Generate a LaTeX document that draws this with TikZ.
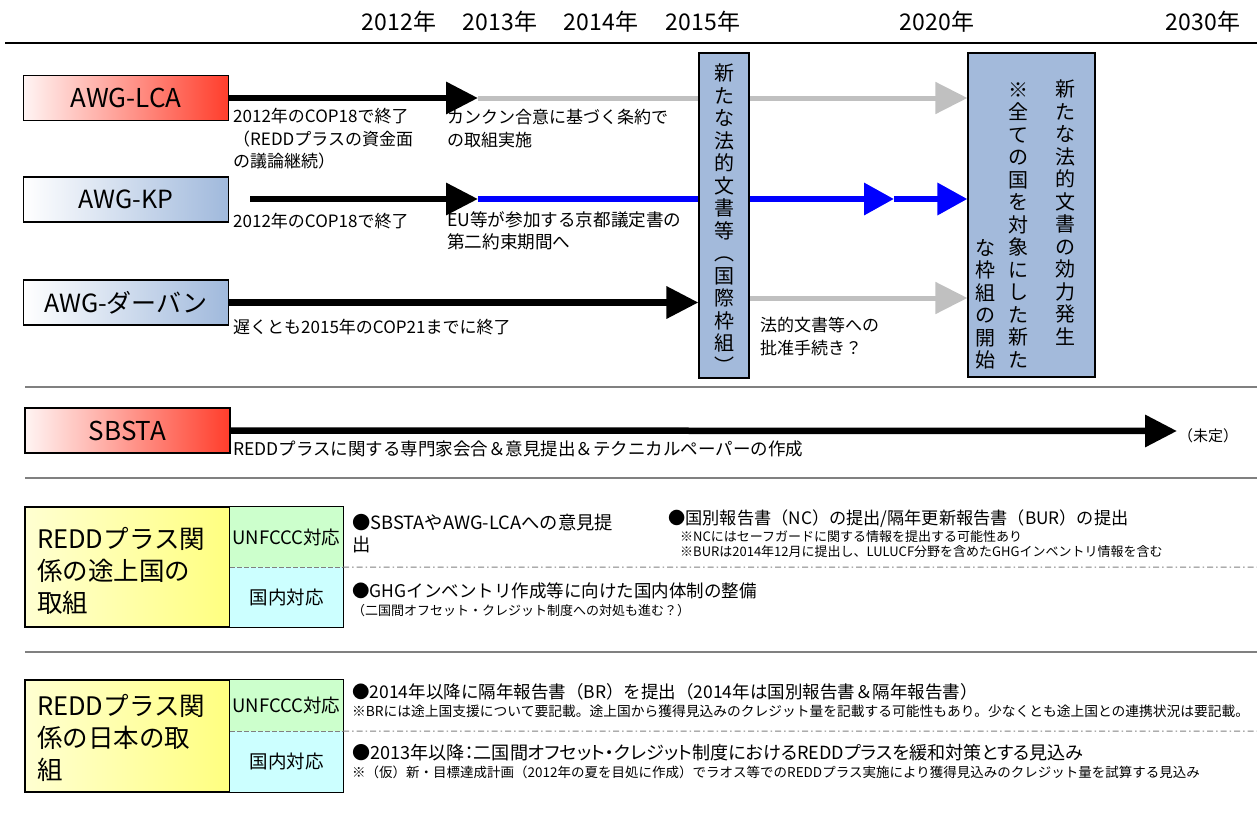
\documentclass[tikz,border=0pt]{standalone}
\usepackage{fontspec}
\setmainfont{Noto Sans CJK JP}
\newfontfamily\pfont[RawFeature=+palt]{Noto Sans CJK JP}
\usetikzlibrary{arrows.meta}
\pgfdeclarelayer{bg}
\pgfsetlayers{bg,main}
\definecolor{myred}{RGB}{255,40,20}
\definecolor{lblue}{RGB}{160,185,220}
\definecolor{vfill}{RGB}{163,186,219}
\definecolor{arrgray}{RGB}{192,192,192}
\definecolor{sepgray}{RGB}{128,128,128}
\definecolor{lgreen}{RGB}{204,255,204}
\definecolor{lcyan}{RGB}{204,255,255}
\definecolor{myblue}{RGB}{0,0,255}
\begin{document}
\begin{tikzpicture}[x=1pt,y=-1pt,
  every node/.style={inner sep=0pt},
  redbox/.style={draw=black, line width=1.2pt, left color=myred!5, right color=myred!90, minimum width=205pt, minimum height=45pt, font=\fontsize{26}{28}\selectfont},
  bluebox/.style={draw=black, line width=1.2pt, left color=white, right color=lblue, minimum width=205pt, minimum height=45pt, font=\fontsize{25}{28}\selectfont},
  vbox/.style={draw=black, line width=1.2pt, fill=vfill},
  vtxt/.style={anchor=north, align=center, font=\fontsize{20}{22.5}\selectfont},
  year/.style={font=\fontsize{23}{26}\selectfont},
  txt/.style={anchor=north west, align=left, font=\fontsize{17}{22.5}\selectfont},
  bul/.style={anchor=north west, align=left, font=\fontsize{17.5}{22}\selectfont},
  small/.style={anchor=north west, align=left, font=\fontsize{13}{15.5}\selectfont},
  blackarr/.style={line width=6.5pt, -{Triangle[length=32pt,width=31pt]}},
  grayarr/.style={line width=5pt, draw=arrgray, -{Triangle[length=32pt,width=31pt]}},
  bluearr/.style={line width=6.5pt, draw=myblue, -{Triangle[length=30pt,width=31pt]}},
  sepline/.style={draw=sepgray, line width=1.6pt},
  dashdot/.style={draw=sepgray, line width=1pt, dash pattern=on 6pt off 3pt on 1.5pt off 3pt},
  splitdash/.style={draw=sepgray, line width=1pt, dash pattern=on 5pt off 2pt},
  bigbox/.style={draw=black, line width=1.2pt, left color=yellow!18, right color=yellow!50, minimum width=205pt},
  bigtxt/.style={anchor=north west, align=left, font=\fontsize{25.5}{32}\selectfont},
  subtxt/.style={font=\fontsize{18.5}{20}\selectfont}
]
\useasboundingbox (0,0) rectangle (1257,814);

% years
\node[year] (y12) at (399,22) {2012年};
\node[year] (y13) at (500,22) {2013年};
\node[year] (y14) at (601,22) {2014年};
\node[year] (y15) at (703,22) {2015年};
\node[year] (y20) at (937,22) {2020年};
\node[year] (y30) at (1203,22) {2030年};
\draw[line width=1.5pt] (5,43) -- (1257,43);

% boxes
\node[redbox] (lca) at (126,98) {AWG-LCA};
\node[bluebox] (kp) at (126,199.5) {AWG-KP};
\node[bluebox] (dbn) at (126,302.5) {AWG-ダーバン};
\node[vbox, minimum width=50pt, minimum height=325pt] (box1) at (724,215.5) {};
\node[vbox, minimum width=127pt, minimum height=324pt] (box2) at (1031.5,215) {};

\node[vtxt] (v1) at (724,64) {新\\た\\な\\法\\的\\文\\書\\等\\︵\\国\\際\\枠\\組\\︶};
\node[vtxt] (v2a) at (1065,80) {新\\た\\な\\法\\的\\文\\書\\の\\効\\力\\発\\生};
\node[vtxt] (v2b) at (1018,82) {※\\全\\て\\の\\国\\を\\対\\象\\に\\し\\た\\新\\た};
\node[vtxt] (v2c) at (985,239) {な\\枠\\組\\の\\開\\始};

\coordinate (lcaT) at (478,98);
\coordinate (kpS) at (250,199);
\coordinate (kpT) at (478,199);
\coordinate (kpM) at (894,199);
\coordinate (dgS) at (749,298);

\begin{pgfonlayer}{bg}
\draw[grayarr] (lcaT) -- (box2.west |- lcaT);
\draw[bluearr] (kpT) -- (kpM);
\draw[bluearr] (kpM) -- (box2.west |- kpM);
\draw[grayarr] (dgS) -- (box2.west |- dgS);
\end{pgfonlayer}
\draw[blackarr] (lca.east) -- (lcaT);
\draw[blackarr] (kpS) -- (kpT);
\draw[blackarr] (dbn.east) -- (box1.west |- dbn.east);

% annotations
\node[txt] (t1) at (233,108) {2012年のCOP18で終了\\（REDDプラスの資金面\\の議論継続）};
\node[txt] (t2) at (447,109) {カンクン合意に基づく条約で\\の取組実施};
\node[txt] (t3) at (233,213) {2012年のCOP18で終了};
\node[txt, font=\fontsize{17.6}{22.5}\selectfont] (t4) at (447,211) {EU等が参加する京都議定書の\\第二約束期間へ};
\node[txt] (t5) at (233,319) {遅くとも2015年のCOP21までに終了};
\node[txt] (t6) at (760,317) {法的文書等への\\批准手続き？};

% separators
\draw[sepline] (25,387) -- (1257,387);
\draw[sepline] (25,478) -- (1257,478);
\draw[sepline] (25,652) -- (1257,652);

% SBSTA
\node[redbox] (sb) at (127.5,430.5) {SBSTA};
\coordinate (sbT) at (1177,431);
\draw[blackarr] (sb.east) -- (sbT);
\node[anchor=west, font=\fontsize{15}{18}\selectfont] (mitei) at (1178,436) {（未定）};
\node[txt, font=\fontsize{17.5}{22.5}\selectfont] (t7) at (233,441) {REDDプラスに関する専門家会合＆意見提出＆テクニカルペーパーの作成};

% section 3
\node[bigbox, minimum height=120pt] (g1) at (127.5,567) {};
\node[bigtxt] (g1t) at (37,527) {REDDプラス関\\係の途上国の\\取組};
\node[subtxt, fill=lgreen, minimum width=113pt, minimum height=60pt] (u1) at (286.5,537) {UNFCCC対応};
\node[subtxt, fill=lcyan, minimum width=113pt, minimum height=60pt] (d1) at (286.5,597) {国内対応};
\draw[line width=1.2pt] (u1.north west) rectangle (d1.south east);
\draw[splitdash] (u1.south west) -- (u1.south east);
\coordinate (e1) at (1257,567);
\draw[dashdot] (u1.south east) -- (e1);
\node[bul, font=\fontsize{18.3}{22}\selectfont] (b1) at (352,514) {●SBSTAやAWG-LCAへの意見提\\出};
\node[bul, font=\fontsize{17.2}{22}\selectfont] (b2) at (668,510) {●国別報告書（NC）の提出/隔年更新報告書（BUR）の提出};
\node[small] (s1) at (680,530) {※NCにはセーフガードに関する情報を提出する可能性あり\\※BURは2014年12月に提出し、LULUCF分野を含めたGHGインベントリ情報を含む};
\node[bul] (b3) at (352,583) {●GHGインベントリ作成等に向けた国内体制の整備};
\node[small] (s2) at (352,604) {（二国間オフセット・クレジット制度への対処も進む？）};

% section 4
\node[bigbox, minimum height=112pt] (g2) at (127.5,736) {};
\node[bigtxt] (g2t) at (37,694) {REDDプラス関\\係の日本の取\\組};
\node[subtxt, fill=lgreen, minimum width=113pt, minimum height=51pt] (u2) at (286.5,705.5) {UNFCCC対応};
\node[subtxt, fill=lcyan, minimum width=113pt, minimum height=61pt] (d2) at (286.5,761.5) {国内対応};
\draw[line width=1.2pt] (u2.north west) rectangle (d2.south east);
\draw[splitdash] (u2.south west) -- (u2.south east);
\coordinate (e2) at (1257,731);
\draw[dashdot] (u2.south east) -- (e2);
\node[bul] (b4) at (352,683) {●2014年以降に隔年報告書（BR）を提出（2014年は国別報告書＆隔年報告書）};
\node[small, font=\fontsize{13.75}{15.5}\selectfont] (s3) at (352,705) {※BRには途上国支援について要記載。途上国から獲得見込みのクレジット量を記載する可能性もあり。少なくとも途上国との連携状況は要記載。};
\node[bul, font=\pfont\fontsize{18.1}{22}\selectfont] (b5) at (352,744.5) {●2013年以降：二国間オフセット・クレジット制度におけるREDDプラスを緩和対策とする見込み};
\node[small, font=\fontsize{13.5}{15.5}\selectfont] (s4) at (352,766) {※（仮）新・目標達成計画（2012年の夏を目処に作成）でラオス等でのREDDプラス実施により獲得見込みのクレジット量を試算する見込み};
\end{tikzpicture}
\end{document}
